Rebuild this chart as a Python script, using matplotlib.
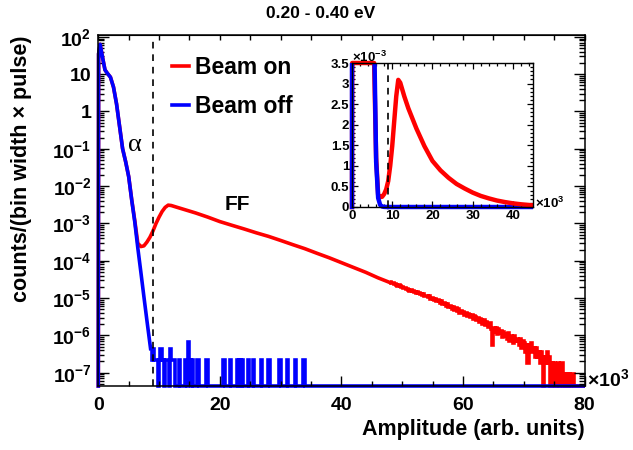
import numpy as np
import matplotlib
matplotlib.use("Agg")
import matplotlib.pyplot as plt
from matplotlib.ticker import MultipleLocator, LogLocator, FuncFormatter, NullFormatter
from matplotlib.lines import Line2D
from matplotlib.transforms import Bbox, TransformedBbox

# ------------------------------------------------------------------ data
# smooth part of the spectra (x in units of 10^3, counts/(bin width x pulse))
off_x = [0.0, 0.05, 0.3, 0.7, 1.1, 1.5, 2.0, 2.5, 3.0, 3.5, 4.0, 4.5, 5.0, 5.5,
         6.0, 6.5, 7.0, 7.5, 8.0, 8.6]
off_y = [0, 35, 63, 28, 13, 10.5, 8.3, 4.5, 1.6, 0.40, 0.10, 0.045, 0.018, 0.0042,
         0.0011, 2.2e-4, 5.0e-5, 1.1e-5, 2.5e-6, 4.4e-7]

on_x = [0.0, 0.05, 0.3, 0.7, 1.1, 1.5, 2.0, 2.5, 3.0, 3.5, 4.0, 4.5, 5.0, 5.5,
        6.0, 6.5, 7.0, 7.5, 8.0, 8.5, 9.0, 9.5, 10.0, 10.5, 11.0, 11.5, 12.0,
        13, 14, 16, 18, 20, 22, 24, 26, 28, 30, 32, 34, 36, 38, 40, 42, 44,
        46, 48]
on_y = [0, 35, 63, 28, 13, 10.5, 8.3, 4.5, 1.6, 0.40, 0.10, 0.045, 0.018, 0.0043,
        0.0012, 2.95e-4, 2.4e-4, 2.5e-4, 3.16e-4, 4.27e-4, 6.3e-4, 1.0e-3, 1.48e-3,
        2.09e-3, 2.69e-3, 3.09e-3, 3.02e-3,
        2.69e-3, 2.40e-3, 1.91e-3, 1.48e-3, 1.12e-3, 8.9e-4, 7.1e-4, 5.6e-4,
        4.5e-4, 3.5e-4, 2.7e-4, 2.1e-4, 1.58e-4, 1.20e-4, 8.9e-5, 6.6e-5, 4.9e-5,
        3.5e-5, 2.6e-5]

# beam-off sparse single counts above 8.6 (bin width 0.2), value per count
off_unit = 2.2e-7
off_bin_width = 0.2
off_bins_start, off_bins_stop = 8.6, 80.0
off_spike_left = [8.6, 8.8, 9.0, 9.2, 9.4, 9.6, 10.0, 10.2, 10.4, 10.6, 11.0, 11.2,
                  11.4, 11.8, 12.0, 12.2, 12.4, 13.2, 14.2, 14.4, 14.8, 15.0, 15.4,
                  16.2, 16.4, 17.8, 20.6, 21.6, 22.8, 23.2, 23.6, 24.6, 25.4, 26.8,
                  28.0, 29.8, 31.0, 32.4, 33.6, 33.8]
off_spike_n = [2, 1, 2, 1, 1, 1, 1, 2, 1, 1, 1, 1, 1, 2, 1, 1, 1, 1, 1, 1, 3, 1, 1,
               1, 1, 1, 1, 1, 1, 1, 1, 1, 1, 1, 1, 1, 1, 1, 1, 1]

# beam-on tail (bin width 0.2 from 48 to 80), counts, value per count
on_unit = 9e-8
on_tail_start, on_tail_width = 48.0, 0.2
on_tail_n = [295, 281, 290, 268, 262, 250, 238, 251, 229, 222,
             214, 201, 209, 190, 197, 185, 176, 188, 170, 172,
             166, 154, 162, 149, 151, 143, 134, 145, 127, 130,
             126, 117, 123, 108, 113, 107, 99, 105, 94, 97,
             91, 84, 92, 79, 82, 77, 70, 76, 66, 69,
             65, 57, 64, 54, 59, 51, 55, 45, 50, 47,
             46, 40, 45, 37, 42, 39, 34, 40, 31, 36,
             34, 29, 33, 26, 30, 28, 23, 29, 21, 25,
             22, 19, 24, 16, 6, 18, 14, 17, 12, 16,
             13, 15, 10, 14, 11, 12, 9, 13, 8, 11,
             10, 7, 11, 8, 9, 8, 6, 9, 5, 8,
             7, 4, 6, 2, 6, 5, 7, 4, 5, 3,
             5, 3, 4, 2, 4, 3, 0, 3, 2, 4,
             2, 3, 0, 2, 1, 2, 0, 1, 2, 0,
             1, 2, 0, 1, 0, 1, 0, 1, 0, 1,
             1, 0, 0, 0, 0, 0, 0, 0, 0, 0]

alpha_cut = 9.0
xmax = 80
ymin, ymax = 4.4e-8, 1.12e2
ins_xmax, ins_ymax = 45, 3.5e-3

# ------------------------------------------------------------------ style
plt.rcParams["font.family"] = ["Liberation Sans", "DejaVu Sans"]
plt.rcParams["font.weight"] = "bold"
plt.rcParams["mathtext.fontset"] = "custom"
plt.rcParams["mathtext.rm"] = "Liberation Sans:bold"
plt.rcParams["mathtext.it"] = "Liberation Sans:bold"
plt.rcParams["mathtext.bf"] = "Liberation Sans:bold"
plt.rcParams["mathtext.default"] = "rm"

RED = "#ff0000"
BLUE = "#0000ff"
LW = 2.6

fig = plt.figure(figsize=(6.33, 4.5), dpi=100)
W, H = 633, 450
ax = fig.add_axes([98.3 / W, 1 - 386 / H, (584.5 - 98.3) / W, (386 - 35) / H])

# build binned arrays from the lists
off_edges = np.round(np.arange(off_bins_start, off_bins_stop + 1e-9, off_bin_width), 2)
off_counts = np.zeros(len(off_edges) - 1)
for left, n in zip(off_spike_left, off_spike_n):
    off_counts[int(round((left - off_bins_start) / off_bin_width))] = n
off_vals = off_counts * off_unit

on_tail_vals = np.array(on_tail_n, float) * on_unit
on_edges = on_tail_start + on_tail_width * np.arange(len(on_tail_n) + 1)


def floor(v, lo):
    v = np.asarray(v, float)
    return np.where(v > 0, v, lo)


def expand_clip(artist, axes, box):
    artist.set_clip_box(TransformedBbox(Bbox(box), axes.transAxes))


main_clip = [[-0.01, -0.02], [1.0, 1.0]]
for a in ax.plot(on_x, floor(on_y, ymin), color=RED, lw=LW, solid_joinstyle="round"):
    expand_clip(a, ax, main_clip)
p = ax.stairs(floor(on_tail_vals, ymin), on_edges, color=RED, lw=LW, baseline=None)
expand_clip(p, ax, main_clip)
for a in ax.plot(off_x, floor(off_y, ymin), color=BLUE, lw=LW, solid_joinstyle="round"):
    expand_clip(a, ax, main_clip)
p = ax.stairs(floor(off_vals, ymin), off_edges, color=BLUE, lw=LW, baseline=None)
expand_clip(p, ax, main_clip)

ax.axvline(alpha_cut, color="black", lw=1.2, ls=(0, (4, 3.5)))

ax.set_yscale("log")
ax.set_xlim(0, xmax)
ax.set_ylim(ymin, ymax)


def logfmt(v, pos):
    e = int(round(np.log10(v)))
    if e == 0:
        return "1"
    if e == 1:
        return "10"
    return r"$10^{%d}$" % e


ax.yaxis.set_major_locator(LogLocator(base=10, numticks=20))
ax.yaxis.set_minor_locator(LogLocator(base=10, subs=np.arange(2, 10), numticks=20))
ax.yaxis.set_major_formatter(FuncFormatter(logfmt))
ax.yaxis.set_minor_formatter(NullFormatter())
ax.xaxis.set_major_locator(MultipleLocator(20))
ax.xaxis.set_minor_locator(MultipleLocator(5))
ax.xaxis.set_major_formatter(FuncFormatter(lambda v, p: "%d" % v))
ax.tick_params(axis="both", which="both", direction="in", labelsize=14, width=1.0)
ax.tick_params(axis="y", which="both", left=True, right=True)
ax.tick_params(axis="y", which="major", length=8, pad=5)
ax.tick_params(axis="y", which="minor", length=4.5)
ax.tick_params(axis="x", which="major", length=7, pad=8)
ax.tick_params(axis="x", which="minor", length=3.6)
top = ax.secondary_xaxis("top")
top.xaxis.set_major_locator(MultipleLocator(5))
top.xaxis.set_major_formatter(NullFormatter())
top.tick_params(direction="in", length=3.5, width=1.0, labeltop=False)
for s in ax.spines.values():
    s.set_linewidth(1.1)

# labels / annotations
fig.text(321 / W, 1 - 13 / H, "0.20 - 0.40 eV", ha="center", va="center",
         fontsize=12.5, fontweight="bold")
fig.text(585 / W, 1 - 430 / H, "Amplitude (arb. units)", ha="right", va="center",
         fontsize=15.5, fontweight="bold")
fig.text(22 / W, 1 - 35 / H, "counts/(bin width \u00d7 pulse)", rotation=90,
         ha="center", va="top", fontsize=15.5, fontweight="bold")
fig.text(587 / W, 1 - 379 / H, r"$\times10^{3}$", ha="left", va="center", fontsize=14)
ax.text(6.0, 0.126, "\u03b1", ha="center", va="center", fontsize=19,
        family=["Liberation Serif", "DejaVu Serif"], fontweight="normal")
ax.text(22.9, 3.3e-3, "FF", ha="center", va="center", fontsize=15, fontweight="bold")

handles = [Line2D([], [], color=RED, lw=LW), Line2D([], [], color=BLUE, lw=LW)]
leg = ax.legend(handles, ["Beam on", "Beam off"], loc="upper left",
                bbox_to_anchor=((172 - 98.3) / 486.2, 1 - (56 - 35) / 351),
                frameon=False, prop={"size": 16.5, "weight": "bold"},
                handlelength=0.75, handletextpad=0.25, labelspacing=0.70,
                borderpad=0, borderaxespad=0)

# ------------------------------------------------------------------ inset
axi = fig.add_axes([352 / W, 1 - 207 / H, (533 - 352) / W, (207 - 63) / H])
sc = 1e3
ILW = 3.2
for a in axi.plot(on_x, np.minimum(np.asarray(on_y, float), ins_ymax) * sc,
                  color=RED, lw=ILW, solid_joinstyle="round"):
    expand_clip(a, axi, [[-0.03, -0.05], [1.0, 1.05]])
p = axi.stairs(on_tail_vals * sc, on_edges, color=RED, lw=ILW, baseline=None)
expand_clip(p, axi, [[-0.03, -0.05], [1.0, 1.0]])
for a in axi.plot(off_x, np.asarray(off_y, float) * sc, color=BLUE, lw=ILW,
                  solid_joinstyle="round"):
    expand_clip(a, axi, [[-0.03, -0.05], [1.0, 1.0]])
p = axi.stairs(off_vals * sc, off_edges, color=BLUE, lw=ILW, baseline=None)
expand_clip(p, axi, [[-0.03, -0.05], [1.0, 1.0]])
axi.axvline(alpha_cut, color="black", lw=1.2, ls=(0, (4, 3.5)))
axi.set_xlim(0, ins_xmax)
axi.set_ylim(0, ins_ymax * sc)
axi.xaxis.set_major_locator(MultipleLocator(10))
axi.xaxis.set_minor_locator(MultipleLocator(2))
axi.yaxis.set_major_locator(MultipleLocator(0.5))
axi.yaxis.set_minor_locator(MultipleLocator(0.1))
axi.xaxis.set_major_formatter(FuncFormatter(lambda v, p: "%g" % v))
axi.yaxis.set_major_formatter(FuncFormatter(lambda v, p: "%g" % v))
axi.tick_params(axis="both", which="both", direction="in", top=True, right=True,
                labelsize=9.5, width=0.9)
axi.tick_params(axis="both", which="major", length=4.5, pad=2)
axi.tick_params(axis="both", which="minor", length=2.2)
for s in axi.spines.values():
    s.set_linewidth(1.0)
fig.text(352 / W, 1 - 57 / H, r"$\times10^{-3}$", ha="left", va="center", fontsize=9.5)
fig.text(535 / W, 1 - 203 / H, r"$\times10^{3}$", ha="left", va="center", fontsize=9.5)

fig.savefig("out.png", dpi=100)
